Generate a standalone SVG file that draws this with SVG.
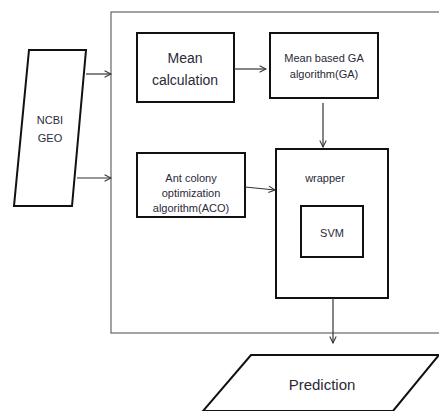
<svg xmlns="http://www.w3.org/2000/svg" width="439" height="411" viewBox="0 0 439 411">
<defs>
<style>
.box{fill:#fff;stroke:#111;stroke-width:2}
.frame{fill:none;stroke:#666;stroke-width:1.2}
.t{font-family:"Liberation Sans",Arial,sans-serif;fill:#2a2a38;text-anchor:middle}
.c{fill:none;stroke:#333;stroke-width:1.2}
</style>
<marker id="ah" viewBox="0 0 10 10" refX="9" refY="5" markerWidth="8" markerHeight="8" markerUnits="userSpaceOnUse" orient="auto">
<path d="M1,1 L9,5 L1,9" fill="none" stroke="#333" stroke-width="1.3"/>
</marker>
</defs>
<rect width="439" height="411" fill="#fff"/>
<rect id="container" class="frame" x="111" y="12" width="340" height="321"/>
<g id="ncbi">
<polygon class="box" points="29,50 86,50 72,206 14,206"/>
<text class="t" x="50" y="124" font-size="11">NCBI</text>
<text class="t" x="50" y="142" font-size="11">GEO</text>
</g>
<g id="mean">
<rect class="box" x="137" y="33" width="97" height="69"/>
<text class="t" x="185" y="63" font-size="14">Mean</text>
<text class="t" x="185" y="85" font-size="14">calculation</text>
</g>
<g id="ga">
<rect class="box" x="270" y="33" width="108" height="65"/>
<text class="t" x="324" y="62" font-size="11">Mean based GA</text>
<text class="t" x="324" y="78" font-size="11">algorithm(GA)</text>
</g>
<g id="aco">
<rect class="box" x="137" y="153" width="108" height="64"/>
<text class="t" x="191" y="182" font-size="11">Ant colony</text>
<text class="t" x="191" y="197" font-size="11">optimization</text>
<text class="t" x="191" y="212" font-size="11">algorithm(ACO)</text>
</g>
<g id="wrapper">
<rect class="box" x="276" y="149" width="112" height="149"/>
<text class="t" x="325" y="182" font-size="11">wrapper</text>
</g>
<g id="svm">
<rect class="box" x="301" y="206" width="62" height="51"/>
<text class="t" x="332" y="237" font-size="11">SVM</text>
</g>
<g id="prediction">
<polygon class="box" points="251,355 439,355 393,411 203,411" />
<text class="t" x="322" y="390" font-size="15">Prediction</text>
</g>
<g id="connectors">
<line class="c" x1="86" y1="74" x2="111" y2="74" marker-end="url(#ah)"/>
<line class="c" x1="77" y1="178" x2="111" y2="178" marker-end="url(#ah)"/>
<line class="c" x1="234" y1="69" x2="266" y2="69" marker-end="url(#ah)"/>
<line class="c" x1="323" y1="103" x2="323" y2="147" marker-end="url(#ah)"/>
<line class="c" x1="245" y1="187" x2="275" y2="190" marker-end="url(#ah)"/>
<line class="c" x1="333" y1="298" x2="333" y2="343" marker-end="url(#ah)"/>
</g>
</svg>
